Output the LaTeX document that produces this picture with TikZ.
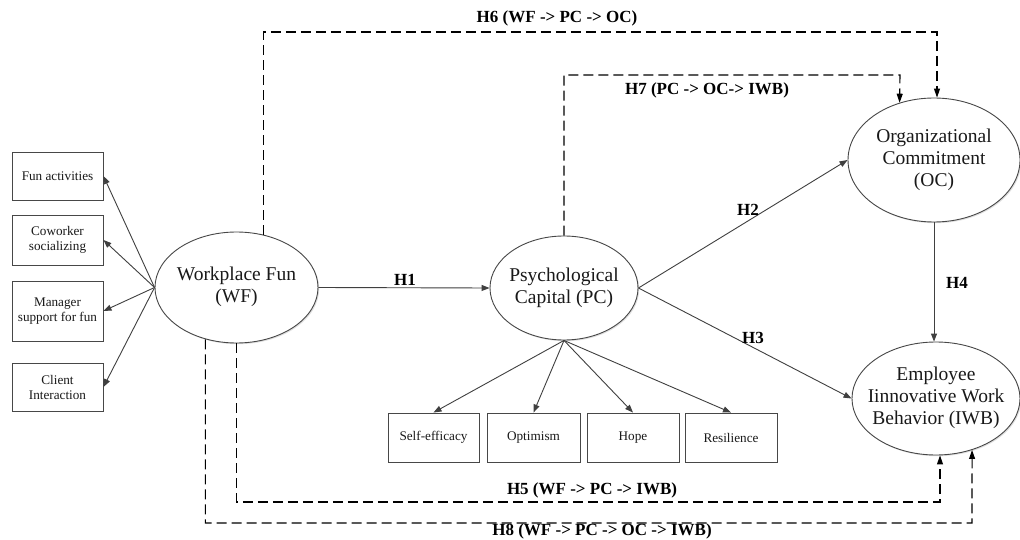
\documentclass[tikz,border=0pt]{standalone}
\usepackage{fontspec}
\setmainfont{Liberation Serif}
\usetikzlibrary{shapes.geometric,arrows.meta,shadows,calc}
\newcommand{\elltext}[1]{\makebox[0pt]{\begin{tabular}{@{}c@{}}#1\end{tabular}}}
\begin{document}
\begin{tikzpicture}[x=1pt,y=-1pt,
  ell/.style={ellipse, draw=black!72, line width=0.9pt, fill=white, inner sep=0pt,
    text=black!90, font=\fontsize{19.5}{22}\selectfont,
    drop shadow={shadow xshift=1.2pt, shadow yshift=-1.2pt, opacity=0.25}},
  ind/.style={rectangle, draw=black!72, line width=0.9pt, fill=white, inner sep=0pt,
    text=black!90, align=center, font=\fontsize{13.2}{15}\selectfont,
    drop shadow={shadow xshift=1pt, shadow yshift=-1pt, opacity=0.2}},
  arr/.style={draw=black!75, line width=0.9pt, -{Triangle[length=8pt,width=6pt]}},
  hyp/.style={draw=black, line width=1.1pt, dash pattern=on 10pt off 5pt,
    -{Triangle[length=9pt,width=6pt]}},
  lab/.style={font=\bfseries\fontsize{17}{20}\selectfont, inner sep=0pt, text=black}]

\useasboundingbox[fill=white] (0,0) rectangle (1020,540);

% latent constructs
\node[ell, minimum width=163pt, minimum height=111pt] (WF) at (236.5,287.5) {\elltext{Workplace Fun\\(WF)}};
\node[ell, minimum width=148pt, minimum height=104pt] (PC) at (564,288) {\elltext{Psychological\\Capital (PC)}};
\node[ell, minimum width=172pt, minimum height=124pt] (OC) at (934,160) {\elltext{Organizational\\Commitment\\(OC)}};
\node[ell, minimum width=168pt, minimum height=113pt] (IWB) at (936,398.5) {\elltext{Employee\\Iinnovative Work\\Behavior (IWB)}};

% WF indicators
\node[ind, minimum width=91pt, minimum height=48pt] (FA) at (57.5,176) {Fun activities};
\node[ind, minimum width=91pt, minimum height=50pt] (CS) at (57.5,240) {Coworker\\socializing};
\node[ind, minimum width=91pt, minimum height=60pt] (MS) at (57.5,311) {Manager\\support for fun};
\node[ind, minimum width=91pt, minimum height=48pt] (CI) at (57.5,387) {Client\\Interaction};

% PC indicators
\node[ind, minimum width=91pt, minimum height=49pt] (SE) at (433.5,437.5) {Self-efficacy};
\node[ind, minimum width=93pt, minimum height=49pt] (OP) at (533.5,437.5) {Optimism};
\node[ind, minimum width=92pt, minimum height=49pt] (HO) at (633,437.5) {Hope};
\node[ind, minimum width=92pt, minimum height=49pt] (RE) at (731,437.5) {Resilience};

% indicator arrows
\draw[arr] (WF.west) -- (FA.east);
\draw[arr] (WF.west) -- (CS.east);
\draw[arr] (WF.west) -- (MS.east);
\draw[arr] (WF.west) -- (CI.east);
\draw[arr] (PC.south) -- (SE.north);
\draw[arr] (PC.south) -- (OP.north);
\draw[arr] (PC.south) -- (HO.north);
\draw[arr] (PC.south) -- (RE.north);

% direct paths
\draw[arr] (WF.east) -- (PC.west);
\draw[arr] (PC.east) -- (OC.west);
\draw[arr] (PC.east) -- (IWB.west);
\draw[arr] (OC.south) -- (OC.south |- IWB.north);

\node[lab] (L1) at (405,280) {H1};
\node[lab] (L2) at (748,210) {H2};
\node[lab] (L3) at (753,338) {H3};
\node[lab] (L4) at (957,283) {H4};

% mediation paths
\coordinate (c6) at (937,32);
\coordinate (c7) at (900,75);
\coordinate (c5) at (940,502);
\coordinate (c8) at (972,523);
\draw[hyp] (WF.63) |- (c6) -- (c6 |- OC.north);
\draw[hyp] (PC.north) |- (c7) -- (OC.121);
\draw[hyp] (WF.south) |- (c5) -- (c5 |- IWB.south);
\draw[hyp] (WF.239) |- (c8) -- (IWB.-55);

\node[lab] (L6) at (557,18) {H6 (WF -> PC -> OC)};
\node[lab] (L7) at (707,90) {H7 (PC -> OC-> IWB)};
\node[lab] (L5) at (592,490) {H5 (WF -> PC -> IWB)};
\node[lab] (L8) at (602,531) {H8 (WF -> PC -> OC -> IWB)};
\end{tikzpicture}
\end{document}
